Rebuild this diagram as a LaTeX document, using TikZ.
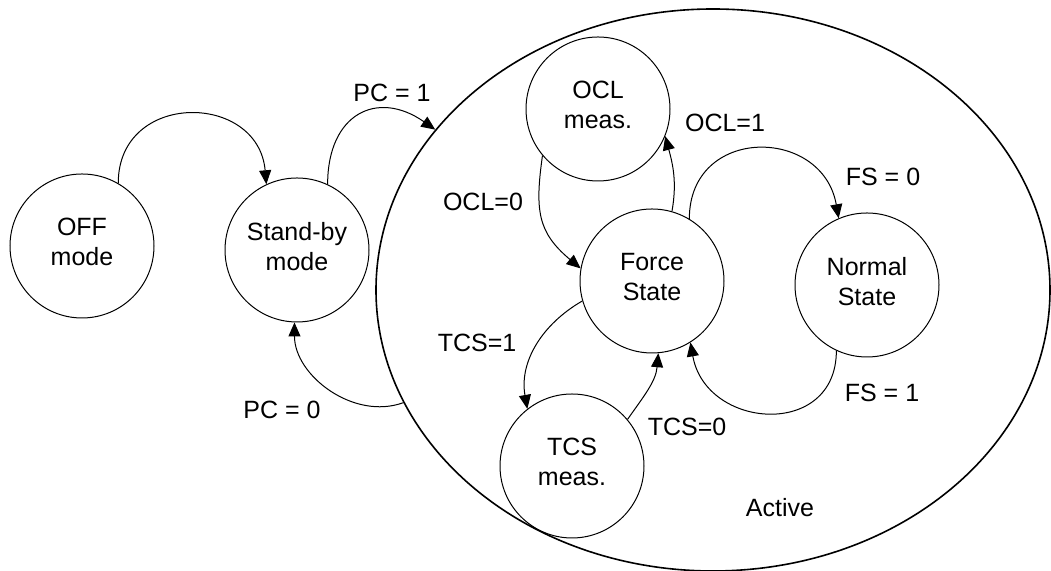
\documentclass[tikz,border=0pt]{standalone}
\usepackage{fontspec}
\setmainfont{Liberation Sans}
\usepackage{tikz}
\usetikzlibrary{arrows.meta}
\usetikzlibrary{shapes.geometric}
\tikzset{every node/.style = {font=\fontsize{12.5}{15}\selectfont}}
\tikzset{state/.style = {draw, circle, line width=0.5pt, minimum size=72pt, inner sep=0, align=center, text depth=4pt}}
\tikzset{trans/.style = {line width=0.5pt, -{Triangle[length=7pt, width=6pt]}}}

\begin{document}
\begin{tikzpicture}[x=0.5pt, y=0.5pt]
      \useasboundingbox (0, 0) rectangle (1051, 571);

      \node [draw, ellipse, line width=0.8pt, minimum width=337pt, minimum height=281pt, inner sep=0] (active) at (713, 281) {};
      \node (activelbl) at (780, 63) {Active};

      \node [state] (off) at (82, 325) {OFF\\mode};
      \node [state] (stby) at (297, 321) {Stand-by\\mode};
      \node [state] (ocl) at (598, 462) {OCL\\meas.};
      \node [state] (force) at (652, 290) {Force\\State};
      \node [state] (normal) at (867, 286) {Normal\\State};
      \node [state] (tcs) at (572, 105) {TCS\\meas.};

      \draw [trans] (off.60) to [out=90, in=95, looseness=1.6] (stby.115);
      \draw [trans] (stby.65) to [out=90, in=145, looseness=1.5] (active.150);
      \draw [trans] (active.200) to [out=200, in=270] (stby.268);
      \draw [trans] (ocl.220) to [out=262, in=140, looseness=1.2] (force.170);
      \draw [trans] (force.74) to [out=80, in=285] (ocl.-22);
      \draw [trans] (force.59) to [out=90, in=100, looseness=1.6] (normal.113);
      \draw [trans] (normal.245) to [out=270, in=280, looseness=1.55] (force.-58);
      \draw [trans] (force.196) to [out=210, in=100] (tcs.128);
      \draw [trans] (tcs.40) to [out=55, in=265] (force.275);

      \node (pc1) at (392, 478) {PC = 1};
      \node (pc0) at (282, 161) {PC = 0};
      \node (ocl0) at (483, 369) {OCL=0};
      \node (ocl1) at (725, 448) {OCL=1};
      \node (fs0) at (883, 394) {FS = 0};
      \node (fs1) at (882, 178) {FS = 1};
      \node (tcs1) at (477, 228) {TCS=1};
      \node (tcs0) at (687, 144) {TCS=0};
\end{tikzpicture}
\end{document}
